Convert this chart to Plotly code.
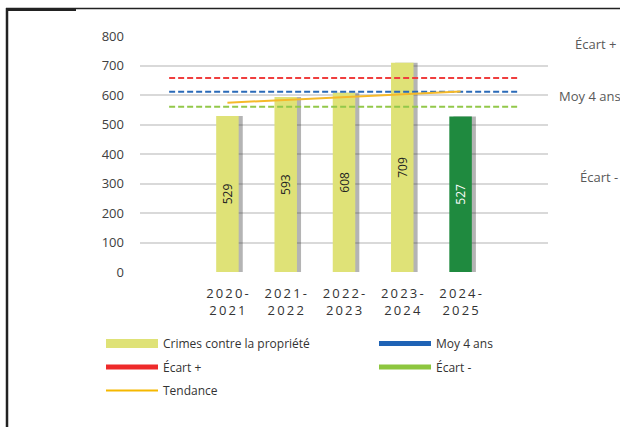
import plotly.graph_objects as go

# ---- data ----
categories = ["2020-2021", "2021-2022", "2022-2023", "2023-2024", "2024-2025"]
crimes = [529, 593, 608, 709, 527]
tendance = [574, 583, 593, 602, 612]
moy_4_ans = 611
ecart_plus = 658
ecart_moins = 560
y_ticks = [0, 100, 200, 300, 400, 500, 600, 700, 800]

bar_colors = ["#dfe277", "#dfe277", "#dfe277", "#dfe277", "#1f8a3f"]
label_colors = ["#222222", "#222222", "#222222", "#222222", "#ffffff"]

FONT = "Open Sans"
W, H = 620, 427
L, R, T, B = 140, 72, 36, 155

pad_left, pad_right = " ", "  "
axis_cats = [pad_left] + categories + [pad_right]


def spaced(label):
    a, b = label.split("-")
    sp = "\u2006"
    return sp.join(a) + sp + "-" + "<br>" + sp.join(b)


def px_x(px):
    return (px - L) / (W - L - R)


def px_y(py):
    return (H - B - py) / (H - T - B)


fig = go.Figure()

# bar shadows
fig.add_trace(go.Bar(
    x=categories, y=crimes, width=0.386, offset=-0.193 + 0.07,
    marker=dict(color="rgba(40,40,40,0.35)", line=dict(width=0)),
    showlegend=False, hoverinfo="skip",
))
# bars
fig.add_trace(go.Bar(
    x=categories, y=crimes, width=0.386, offset=-0.193,
    marker=dict(color=bar_colors, line=dict(width=0)),
    text=[str(v) for v in crimes], textposition="inside",
    insidetextanchor="middle", textangle=-90,
    textfont=dict(family=FONT, size=12, color=label_colors),
    constraintext="none",
    showlegend=False, name="Crimes contre la propriété",
))

# reference lines
for val, col in [(ecart_plus, "#ef3e3e"), (moy_4_ans, "#2a6ab8"), (ecart_moins, "#92c84a")]:
    fig.add_trace(go.Scatter(
        x=axis_cats, y=[val] * len(axis_cats), mode="lines",
        line=dict(color=col, width=2, dash="6px,3px"),
        showlegend=False, hoverinfo="skip",
    ))

# trend
fig.add_trace(go.Scatter(
    x=categories, y=tendance, mode="lines",
    line=dict(color="#f5b92a", width=2),
    showlegend=False, name="Tendance",
))

# legend entries
legend_items = [
    ("Crimes contre la propriété", "#dfe277", 9, "legend"),
    ("Moy 4 ans", "#1f63b5", 5, "legend"),
    ("Écart +", "#ee2a2a", 5, "legend2"),
    ("Écart -", "#8dc63f", 5, "legend2"),
    ("Tendance", "#f5b800", 2, "legend3"),
]
for name, col, w, leg in legend_items:
    fig.add_trace(go.Scatter(
        x=[None], y=[None], mode="lines", name=name,
        line=dict(color=col, width=w), legend=leg, hoverinfo="skip",
    ))

leg_common = dict(
    orientation="h", xanchor="left", yanchor="top", x=px_x(101),
    itemwidth=52, entrywidth=206, entrywidthmode="pixels",
    font=dict(family=FONT, size=12, color="#333333"),
    bgcolor="rgba(0,0,0,0)", borderwidth=0,
)

# right-side labels
annotations = [
    dict(text="Écart +", x=px_x(573), y=px_y(44)),
    dict(text="Moy 4 ans", x=px_x(557), y=px_y(96)),
    dict(text="Écart -", x=px_x(578), y=px_y(177)),
]
for a in annotations:
    a.update(xref="paper", yref="paper", xanchor="left", yanchor="middle",
             showarrow=False, font=dict(family=FONT, size=13, color="#595959"))

# frame
shapes = [
    dict(type="line", xref="paper", yref="paper", x0=px_x(6), x1=px_x(625),
         y0=px_y(8.5), y1=px_y(8.5), line=dict(color="#222222", width=1.5)),
    dict(type="line", xref="paper", yref="paper", x0=px_x(6), x1=px_x(76),
         y0=px_y(9.5), y1=px_y(9.5), line=dict(color="#222222", width=3)),
    dict(type="line", xref="paper", yref="paper", x0=px_x(7), x1=px_x(7),
         y0=px_y(8), y1=px_y(440), line=dict(color="#222222", width=2.5)),
]

fig.update_layout(
    width=W, height=H,
    margin=dict(l=L, r=R, t=T, b=B, autoexpand=False),
    paper_bgcolor="white", plot_bgcolor="white",
    barmode="overlay",
    font=dict(family=FONT, size=12, color="#404040"),
    legend=dict(**leg_common, y=px_y(329)),
    legend2=dict(**leg_common, y=px_y(352.5)),
    legend3=dict(**leg_common, y=px_y(376)),
    annotations=annotations,
    shapes=shapes,
    xaxis=dict(
        type="category", categoryorder="array", categoryarray=axis_cats,
        range=[-0.5, 6.5], tickvals=categories,
        ticktext=[spaced(c) for c in categories],
        tickfont=dict(family=FONT, size=13, color="#333333"),
        showgrid=False, zeroline=False, showline=False, ticks="",
        ticklabelstandoff=12,
    ),
    yaxis=dict(
        range=[0, 800], tickvals=y_ticks,
        tickfont=dict(family=FONT, size=13, color="#404040"),
        gridcolor="#d9d9d9", gridwidth=1.5, zeroline=False, showline=False,
        ticks="", ticklabelstandoff=15,
    ),
)

fig.write_html(
    "out.html",
    config={"displayModeBar": False},
    post_script="document.body.style.margin='0';document.body.style.overflow='hidden';",
)
